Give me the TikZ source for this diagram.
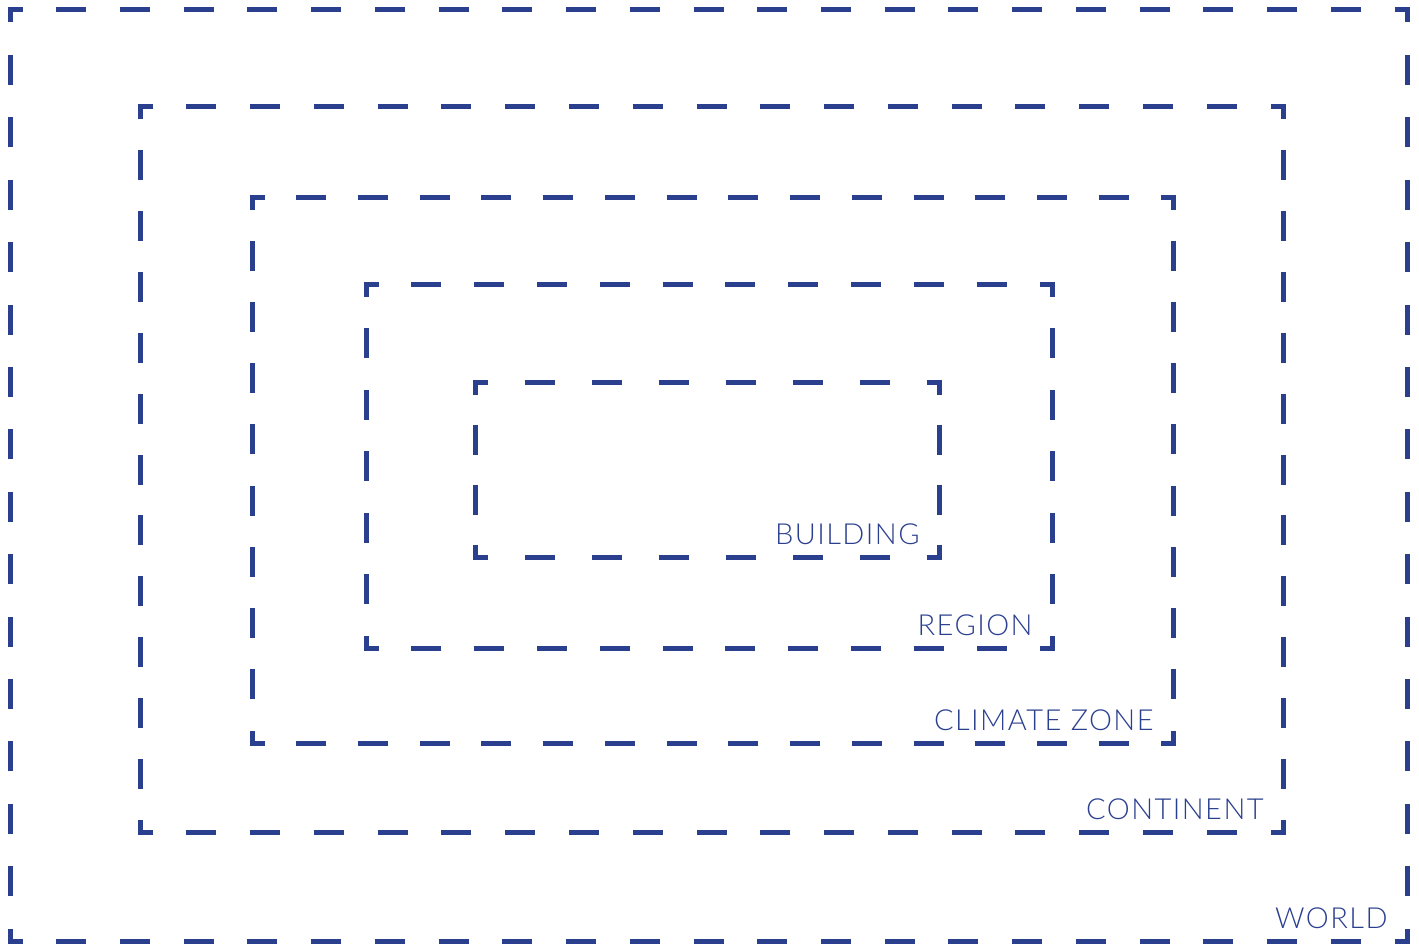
\documentclass[tikz,border=0pt]{standalone}
\usepackage{fontspec}
\setmainfont{Lato Light}[LetterSpace=5]
\definecolor{zoneblue}{RGB}{43,63,143}

\tikzset{
  zoneline/.style={draw=zoneblue, line width=2.5pt, line cap=butt, shorten <=-1.25pt, shorten >=-1.25pt},
  zonelabel/.style={anchor=base east, text=zoneblue, inner sep=0pt, font=\fontsize{14.5}{16}\selectfont}
}

% dashed box with a dash on every corner: x1 y1 x2 y2 name label
\newcommand{\zonebox}[6]{%
  \coordinate (#5-nw) at (#1,#2);
  \coordinate (#5-se) at (#3,#4);
  \foreach \ax/\ay/\bx/\by in {#1/#2/#3/#2, #3/#2/#3/#4, #3/#4/#1/#4, #1/#4/#1/#2}{
    \pgfmathsetmacro{\len}{abs(\bx-\ax)+abs(\by-\ay)+5}
    \pgfmathsetmacro{\num}{max(1,round(\len/63))}
    \pgfmathsetlengthmacro{\gapd}{(\len/\num-30)*0.5}
    \draw[zoneline, dash pattern=on 15pt off \gapd, dash phase=7.5pt] (\ax,\ay) -- (\bx,\by);
  }
  \node[zonelabel] (#5) at ({#3-19},{#4-13}) {#6};
}

\begin{document}
\begin{tikzpicture}[x=0.5pt, y=-0.5pt]
  \useasboundingbox (0,0) rectangle (1419,947);

  \zonebox{10}{10}{1407}{941}{world}{WORLD}
  \zonebox{140}{107}{1283}{832}{continent}{CONTINENT}
  \zonebox{252}{197}{1173}{743}{climate}{CLIMATE ZONE}
  \zonebox{366}{284}{1052}{648}{region}{REGION}
  \zonebox{475}{382}{939}{557}{building}{BUILDING}
\end{tikzpicture}
\end{document}
